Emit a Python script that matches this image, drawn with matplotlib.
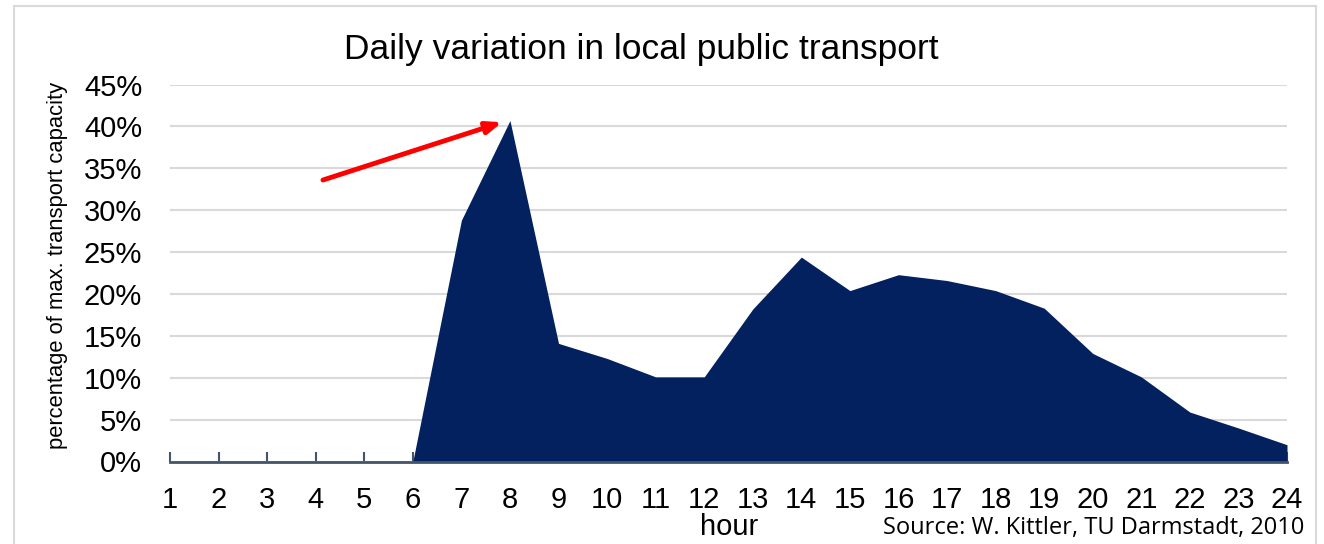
import matplotlib
matplotlib.use("Agg")
import matplotlib.pyplot as plt
import matplotlib.patheffects as pe
from matplotlib.patches import Rectangle
from matplotlib.ticker import PercentFormatter

hours = list(range(1, 25))
share = [0, 0, 0, 0, 0, 0, 28.8, 40.7, 14.1, 12.3, 10.1, 10.1,
         18.2, 24.4, 20.4, 22.3, 21.6, 20.4, 18.3, 12.9, 10.1, 5.9, 4.0, 2.0]
y_ticks = [0, 5, 10, 15, 20, 25, 30, 35, 40, 45]

title = "Daily variation in local public transport"
ylabel = "percentage of max. transport capacity"
xlabel = "hour"
source = "Source: W. Kittler, TU Darmstadt, 2010"

plt.rcParams['font.family'] = ['Liberation Sans', 'DejaVu Sans']

W, H = 1324, 544
fig = plt.figure(figsize=(W / 100, H / 100), dpi=100)
fig.patch.set_facecolor("white")

# chart border
fig.add_artist(Rectangle((14 / W, -0.1), (1316 - 14) / W, 1.1 - 6 / H,
                         transform=fig.transFigure, fill=False,
                         edgecolor="#D9D9D9", linewidth=1.5))

ax = fig.add_axes([170 / W, (H - 461.5) / H, (1287 - 170) / W, (461.5 - 84.5) / H])
ax.fill_between(hours, share, 0, color="#03215F", linewidth=0, zorder=2)
ax.set_xlim(1, 24)
ax.set_ylim(0, 45)
ax.set_yticks(y_ticks)
ax.yaxis.set_major_formatter(PercentFormatter(decimals=0))
ax.set_xticks(hours)
ax.set_xticklabels([str(h) for h in hours])
ax.grid(axis="y", color="#D9D9D9", linewidth=1.5, zorder=0)
ax.set_axisbelow(True)
for s in ["top", "right", "left"]:
    ax.spines[s].set_visible(False)
ax.spines["bottom"].set_color("#44546A")
ax.spines["bottom"].set_linewidth(2)
ax.spines["bottom"].set_zorder(3)
ax.tick_params(axis="x", direction="in", length=7, width=1.5, color="#44546A",
               labelsize=21, pad=18, labelcolor="black")
ax.tick_params(axis="y", length=0, labelsize=21, pad=20, labelcolor="black")

fig.text(58 / W, 1 - 265 / H, ylabel, fontsize=15.8, rotation=90,
         ha="center", va="center")
fig.text(641 / W, 1 - 50 / H, title, fontsize=25.5, ha="center", va="center")
fig.text(729 / W, 1 - 527 / H, xlabel, fontsize=21, ha="center", va="center")
fig.text(1304 / W, 1 - 528 / H, source, fontsize=17, ha="right", va="center",
         family=["Open Sans", "DejaVu Sans"])

# red arrow pointing to the peak
ann = ax.annotate("", xy=(7.84, 40.5), xytext=(4.15, 33.6),
                  arrowprops=dict(arrowstyle="-|>,head_length=0.9,head_width=0.35",
                                  color="#FF0000", lw=3.5, shrinkA=0, shrinkB=0),
                  zorder=5, annotation_clip=False)
ann.arrow_patch.set_path_effects([
    pe.SimplePatchShadow(offset=(1.5, -1.5), shadow_rgbFace="#888888", alpha=0.35),
    pe.Normal()])

fig.savefig("out.png", dpi=100)
